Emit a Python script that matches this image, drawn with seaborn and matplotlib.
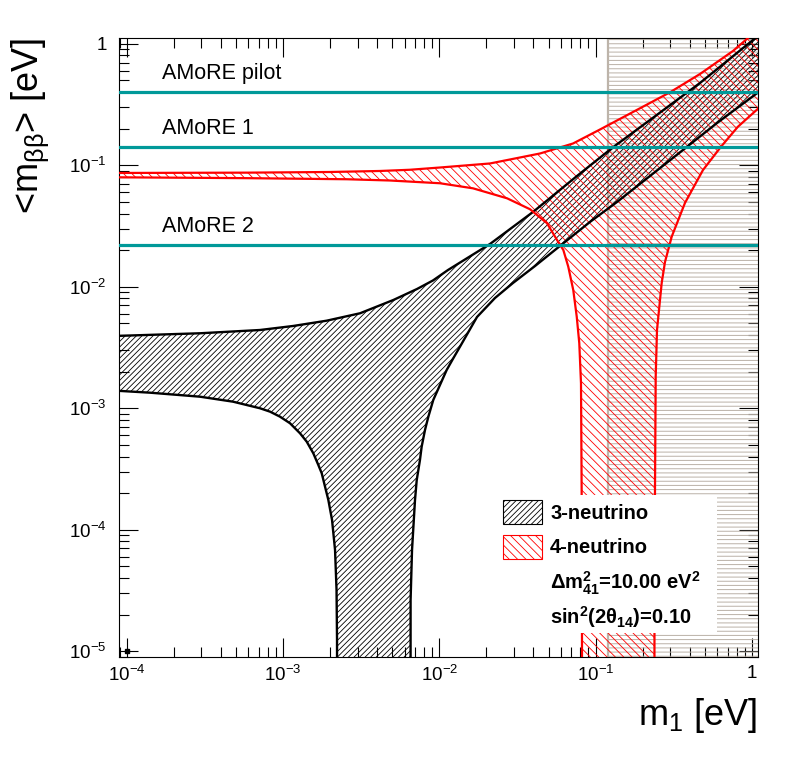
import numpy as np
import matplotlib
matplotlib.use("Agg")
import matplotlib.pyplot as plt
import seaborn as sns
from matplotlib.patches import Rectangle
from matplotlib.ticker import FixedLocator, FixedFormatter, LogLocator, NullFormatter

# ---------------- data ----------------
ZERO = 1e-8  # effective mass compatible with zero (below the axis)

# 3-neutrino (normal ordering) band
no_upper_m1 = [8.5e-5, 2.94e-4, 7.12e-4, 1.163e-3, 1.903e-3, 3.108e-3, 5.08e-3, 7.20e-3,
               9.11e-3, 1.137e-2, 2.111e-2, 3.978e-2, 7.61e-2, 0.1293, 0.2231, 0.4661,
               1.018, 1.128]
no_upper_mbb = [3.93e-3, 4.135e-3, 4.40e-3, 4.75e-3, 5.25e-3, 6.04e-3, 7.77e-3, 9.57e-3,
                1.125e-2, 1.372e-2, 2.246e-2, 4.12e-2, 8.15e-2, 0.1404, 0.2355, 0.4748,
                1.073, 1.18]
no_lower_left_m1 = [8.5e-5, 1.408e-4, 2.94e-4, 4.78e-4, 7.12e-4, 8.25e-4, 9.56e-4,
                    1.108e-3, 1.284e-3, 1.417e-3, 1.562e-3, 1.681e-3, 1.768e-3, 1.856e-3,
                    1.949e-3, 2.058e-3, 2.151e-3, 2.199e-3, 2.215e-3, 2.22e-3]
no_lower_left_mbb = [1.393e-3, 1.341e-3, 1.243e-3, 1.131e-3, 9.98e-4, 9.36e-4, 8.51e-4,
                     7.51e-4, 6.21e-4, 5.30e-4, 4.25e-4, 3.41e-4, 2.91e-4, 2.26e-4,
                     1.755e-4, 1.202e-4, 6.81e-5, 3.19e-5, 1.237e-5, ZERO]
no_lower_right_m1 = [6.54e-3, 6.55e-3, 6.69e-3, 6.99e-3, 7.17e-3, 7.52e-3, 7.71e-3,
                     8.10e-3, 8.51e-3, 9.15e-3, 1.010e-2, 1.115e-2, 1.229e-2, 1.357e-2,
                     1.743e-2, 2.272e-2, 2.963e-2, 4.10e-2, 5.92e-2, 9.21e-2, 0.1372,
                     0.2231, 0.3628, 0.5990, 1.128]
no_lower_right_mbb = [ZERO, 2.64e-5, 6.81e-5, 1.755e-4, 2.56e-4, 3.75e-4, 4.82e-4,
                      6.62e-4, 8.51e-4, 1.168e-3, 1.552e-3, 2.063e-3, 2.575e-3, 3.21e-3,
                      5.63e-3, 8.07e-3, 1.073e-2, 1.480e-2, 2.163e-2, 3.41e-2, 4.98e-2,
                      8.15e-2, 0.1334, 0.2225, 0.408]

# 4-neutrino band
st_upper_m1 = [8.5e-5, 5.88e-4, 1.998e-3, 4.17e-3, 6.49e-3, 1.010e-2, 2.111e-2, 4.41e-2,
               7.17e-2, 0.1068, 0.1737, 0.2996, 0.4661, 0.7581, 0.9456, 1.128]
st_upper_mbb = [8.63e-2, 8.68e-2, 8.79e-2, 8.96e-2, 9.17e-2, 9.57e-2, 0.1033, 0.1248,
                0.1508, 0.1967, 0.2741, 0.398, 0.5630, 0.871, 1.114, 1.321]
st_lower_left_m1 = [8.5e-5, 5.88e-4, 2.566e-3, 4.84e-3, 1.010e-2, 1.643e-2, 2.713e-2,
                    3.806e-2, 4.89e-2, 5.67e-2, 6.22e-2, 6.69e-2, 7.20e-2, 7.58e-2,
                    7.87e-2, 8.07e-2, 8.15e-2, 8.19e-2, 8.2e-2]
st_lower_left_mbb = [7.95e-2, 7.82e-2, 7.66e-2, 7.48e-2, 7.10e-2, 6.45e-2, 5.34e-2,
                     4.34e-2, 3.33e-2, 2.42e-2, 2.005e-2, 1.461e-2, 9.39e-3, 5.66e-3,
                     3.42e-3, 1.603e-3, 2.005e-4, 1.237e-5, ZERO]
st_lower_right_m1 = [0.2377, 0.2384, 0.2401, 0.2427, 0.2474, 0.2651, 0.2783, 0.3072,
                     0.3736, 0.4873, 0.6355, 0.8159, 1.128]
st_lower_right_mbb = [ZERO, 2.64e-5, 2.005e-4, 1.817e-3, 4.40e-3, 1.073e-2, 1.597e-2,
                      2.579e-2, 4.89e-2, 9.13e-2, 0.1420, 0.2075, 0.3013]

# experiment sensitivities
amore_labels = ["AMoRE pilot", "AMoRE 1", "AMoRE 2"]
amore_limits = [0.398, 0.1404, 0.0219]

# cosmology exclusion on m1
cosmo_m1_limit = 0.12

# ticks
x_tick_values = [1e-4, 1e-3, 1e-2, 1e-1, 1.0]
x_tick_labels = [r"$\mathdefault{10^{-4}}$", r"$\mathdefault{10^{-3}}$",
                 r"$\mathdefault{10^{-2}}$", r"$\mathdefault{10^{-1}}$", "1"]
y_tick_values = [1e-5, 1e-4, 1e-3, 1e-2, 1e-1, 1.0]
y_tick_labels = [r"$\mathdefault{10^{-5}}$", r"$\mathdefault{10^{-4}}$",
                 r"$\mathdefault{10^{-3}}$", r"$\mathdefault{10^{-2}}$",
                 r"$\mathdefault{10^{-1}}$", "1"]

legend_labels = ["3-neutrino", "4-neutrino"]
param_lines = [r"Δ$\mathdefault{m^{2}_{41}}$=10.00 e$\mathdefault{V^{2}}$",
               r"si$\mathdefault{n^{2}}$(2$\mathdefault{θ_{14}}$)=0.10"]

# ---------------- style ----------------
sns.set_theme(style="ticks")
plt.rcParams["font.family"] = ["Liberation Sans", "DejaVu Sans"]
plt.rcParams.update({
    "mathtext.fontset": "custom",
    "mathtext.rm": "Liberation Sans",
    "mathtext.it": "Liberation Sans:italic",
    "mathtext.bf": "Liberation Sans:bold",
    "mathtext.sf": "Liberation Sans",
    "hatch.linewidth": 0.6,
    "axes.linewidth": 0.8,
    "axes.edgecolor": "black",
    "xtick.color": "black",
    "ytick.color": "black",
    "text.color": "black",
})

GRAY_LINE = "#bdb4aa"
GRAY_HATCH = "#bab1a7"
TEAL = "#009999"
RED = "#ff0000"
HATCH_3NU = "/" * 6     # ~5.5 px spacing
HATCH_4NU = "\\" * 4    # ~8 px spacing

fig = plt.figure(figsize=(7.98, 7.73), dpi=100)
ax = fig.add_axes([119 / 798, 1 - 657 / 773, 639 / 798, 619 / 773])
ax.set_xscale("log")
ax.set_yscale("log")
XLIM = (8.91e-5, 1.096)
YLIM = (8.95e-6, 1.114)
ax.set_xlim(*XLIM)
ax.set_ylim(*YLIM)

# cosmology excluded region
with plt.rc_context({"hatch.linewidth": 0.7}):
    ax.axvspan(cosmo_m1_limit, 10.0, facecolor="none", edgecolor=GRAY_HATCH,
               hatch="----", lw=0, zorder=1)
ax.axvline(cosmo_m1_limit, color=GRAY_LINE, lw=1.6, zorder=1.5)

# hatched bands
no_px = no_upper_m1 + no_lower_right_m1[::-1] + no_lower_left_m1[::-1]
no_py = no_upper_mbb + no_lower_right_mbb[::-1] + no_lower_left_mbb[::-1]
ax.fill(no_px, no_py, facecolor="none", edgecolor="black", hatch=HATCH_3NU, lw=0, zorder=2)

st_px = st_upper_m1 + st_lower_right_m1[::-1] + st_lower_left_m1[::-1]
st_py = st_upper_mbb + st_lower_right_mbb[::-1] + st_lower_left_mbb[::-1]
ax.fill(st_px, st_py, facecolor="none", edgecolor=RED, hatch=HATCH_4NU, lw=0, zorder=3)

# boundary lines
for xs, ys in [(no_upper_m1, no_upper_mbb), (no_lower_left_m1, no_lower_left_mbb),
               (no_lower_right_m1, no_lower_right_mbb)]:
    sns.lineplot(x=xs, y=ys, sort=False, estimator=None, color="black", lw=1.7,
                 ax=ax, zorder=4)
for xs, ys in [(st_upper_m1, st_upper_mbb), (st_lower_left_m1, st_lower_left_mbb),
               (st_lower_right_m1, st_lower_right_mbb)]:
    sns.lineplot(x=xs, y=ys, sort=False, estimator=None, color=RED, lw=1.6,
                 ax=ax, zorder=4.5)

# experiment lines
for lab, lim in zip(amore_labels, amore_limits):
    ax.axhline(lim, color=TEAL, lw=2.3, zorder=5)
    ax.text(1.687e-4, lim * 1.29, lab, fontsize=15.5, va="baseline", ha="left", zorder=5)

# tiny marker at the origin corner
ax.plot([1e-4], [1e-5], "s", color="black", ms=2.6, zorder=6)

ax.set_xlim(*XLIM)
ax.set_ylim(*YLIM)

# ticks
ax.xaxis.set_major_locator(FixedLocator(x_tick_values))
ax.xaxis.set_major_formatter(FixedFormatter(x_tick_labels))
ax.yaxis.set_major_locator(FixedLocator(y_tick_values))
ax.yaxis.set_major_formatter(FixedFormatter(y_tick_labels))
for axis in (ax.xaxis, ax.yaxis):
    axis.set_minor_locator(LogLocator(base=10, subs=np.arange(2, 10) * 1.0, numticks=100))
    axis.set_minor_formatter(NullFormatter())
ax.tick_params(which="both", direction="in", top=True, right=True, width=0.8)
ax.tick_params(which="major", length=13.5, labelsize=13.5)
ax.tick_params(which="minor", length=7)
ax.tick_params(axis="x", which="major", pad=6)
ax.tick_params(axis="y", which="major", pad=9)
ax.set_xlabel("")
ax.set_ylabel("")

# legend (drawn in axes coordinates)
ax.add_patch(Rectangle((0.5915, 0.0388), 0.3443, 0.2229, transform=ax.transAxes,
                       facecolor="white", edgecolor="none", zorder=10))
ax.add_patch(Rectangle((0.601, 0.2149), 0.061, 0.0388, transform=ax.transAxes,
                       facecolor="white", edgecolor="black", hatch=HATCH_3NU, lw=0.8,
                       zorder=11))
ax.add_patch(Rectangle((0.601, 0.1583), 0.061, 0.0388, transform=ax.transAxes,
                       facecolor="white", edgecolor=RED, hatch=HATCH_4NU, lw=0.8,
                       zorder=11))
for s, yy in zip(legend_labels + param_lines, [0.2229, 0.1675, 0.1099, 0.0544]):
    ax.text(0.6745, yy, s, transform=ax.transAxes, fontsize=14.5, fontweight="bold",
            va="baseline", ha="left", zorder=12)

# axis titles
fig.text(757 / 798, 1 - 725 / 773, r"m$\mathdefault{_{1}}$ [eV]", fontsize=26,
         ha="right", va="baseline")
fig.text(30 / 798, 1 - 38 / 773, r"<m$\mathdefault{_{ββ}}$> [eV]", fontsize=26,
         rotation=90, ha="center", va="top")

fig.savefig("out.png", dpi=100, facecolor="white")
